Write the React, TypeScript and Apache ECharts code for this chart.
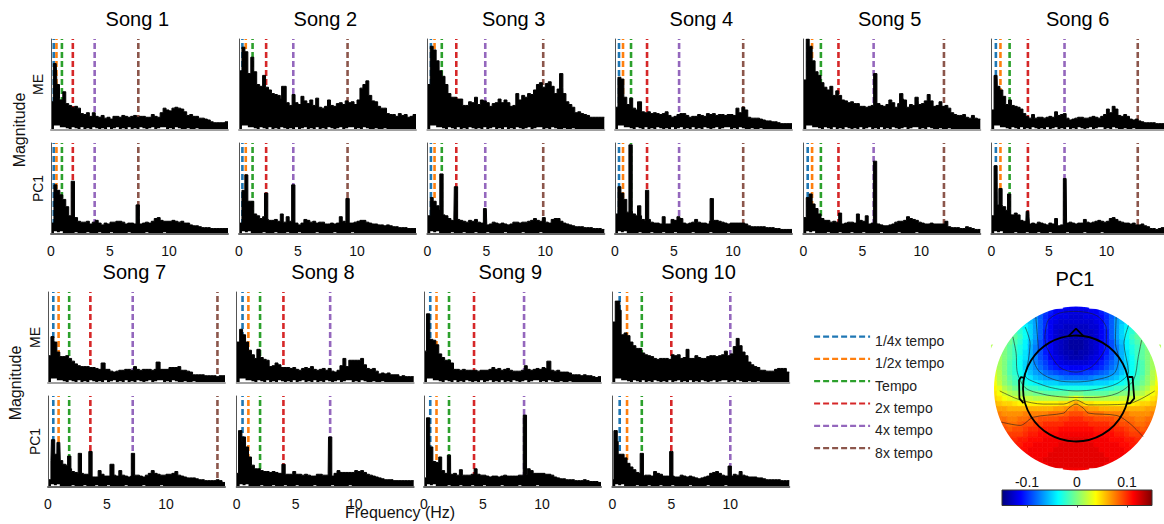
import React, { useEffect, useRef } from "react";
import * as echarts from "echarts";

const FONT = '"Liberation Sans", Arial, sans-serif';
const songNames = ["Song 1", "Song 2", "Song 3", "Song 4", "Song 5", "Song 6", "Song 7", "Song 8", "Song 9", "Song 10"];
const tempoNames = ["1/4x tempo", "1/2x tempo", "Tempo", "2x tempo", "4x tempo", "8x tempo"];
const tempoColors = ["#1f77b4", "#ff7f0e", "#2ca02c", "#d62728", "#9467bd", "#8c564b"];
const tempoFactors = [0.25, 0.5, 1, 2, 4, 8];
const songTempo = [0.925, 1.15, 1.228, 1.358, 1.49, 1.59, 1.795, 1.98, 2.12, 2.5];
const binWidth = 0.25;

const song1ME = [31,60,35,33,42,29,27,25,26,24,18,17,19,15,19,15,14,16,13,14,12,15,15,14,16,15,14,15,16,14,15,15,14,14,17,15,14,19,24,22,21,24,25,24,23,20,16,17,15,15,13,13,12,11,9,8,8,8,8,9];
const song1PC1 = [12,54,48,43,38,30,20,14,18,14,13,13,14,11,13,15,12,10,12,11,13,13,14,14,13,11,12,12,11,11,11,12,13,12,14,17,18,15,14,14,14,15,14,13,14,12,12,10,9,9,8,7,7,7,6,6,6,6,6,6];
const song2ME = [65,91,86,62,80,64,50,48,60,47,44,40,39,38,34,48,30,27,39,30,28,37,32,29,33,27,35,25,24,26,33,27,26,29,30,28,32,30,31,28,33,46,50,54,38,32,31,26,24,24,18,17,17,15,18,16,17,14,15,17];
const song2PC1 = [12,48,65,36,36,22,20,17,19,16,15,15,16,14,22,13,19,14,13,12,10,12,16,15,13,14,12,13,13,11,11,12,11,12,19,14,13,12,12,13,14,15,15,13,12,11,11,10,10,9,10,9,8,8,7,7,7,6,6,6];
const song3ME = [50,92,88,76,65,59,50,40,36,36,34,34,27,27,31,30,36,28,33,32,30,26,29,30,34,30,33,30,26,27,40,33,38,36,40,39,44,50,52,47,51,53,48,40,45,47,40,31,28,25,19,20,18,17,16,14,14,14,14,14];
const song3PC1 = [20,40,36,31,27,21,20,17,15,16,16,15,14,13,15,14,16,13,12,11,10,11,13,12,11,12,11,10,11,13,13,12,13,13,14,15,17,15,14,18,13,12,16,17,17,14,12,11,10,9,8,8,8,7,7,7,6,6,6,5];
const song4ME = [25,58,56,36,28,35,24,22,31,20,19,20,18,19,18,17,18,20,16,14,15,17,18,18,16,14,15,15,17,16,15,18,17,18,16,17,17,16,17,17,16,24,19,25,22,14,13,13,13,12,11,10,10,9,9,8,7,7,7,7];
const song4PC1 = [22,52,45,38,24,26,22,20,20,16,15,16,13,12,12,11,19,11,11,16,15,19,17,12,11,12,13,16,13,12,12,11,14,15,15,14,13,12,11,12,12,12,12,12,11,9,8,8,8,8,8,7,7,7,6,6,5,5,5,5];
const song5ME = [55,100,92,76,64,60,52,47,44,48,38,43,38,33,32,30,31,29,29,26,26,25,26,27,27,29,27,26,28,33,30,25,29,34,33,25,28,27,32,28,29,32,39,32,26,27,31,26,27,24,19,17,16,16,17,14,13,16,13,12];
const song5PC1 = [18,40,44,33,28,22,17,15,15,13,14,13,23,11,12,13,13,12,22,15,14,20,11,12,13,11,10,9,9,10,11,13,14,14,15,19,17,16,15,13,12,11,11,12,11,11,11,11,14,8,7,7,7,6,6,8,7,6,5,5];
const song6ME = [22,50,48,44,37,28,33,27,26,25,23,18,15,13,17,13,14,14,13,14,15,14,20,16,17,18,13,11,12,13,14,14,13,13,14,15,14,13,15,17,23,19,26,23,16,15,17,15,12,11,12,10,9,8,8,8,8,7,7,7];
const song6PC1 = [20,30,32,32,30,26,22,21,23,21,15,14,13,11,12,11,13,12,11,10,12,11,17,9,10,11,12,13,12,11,12,12,16,13,12,13,14,15,14,13,14,17,18,16,14,13,12,12,11,12,10,10,11,9,8,6,6,5,6,7];
const song7ME = [30,51,45,34,29,29,30,27,24,21,19,18,18,18,17,17,16,15,22,15,15,13,12,13,14,14,15,15,14,18,15,14,15,15,15,14,15,23,15,15,15,17,17,17,18,14,14,13,12,9,9,9,9,8,8,8,8,7,8,8];
const song7PC1 = [8,29,36,35,29,25,24,20,17,16,15,15,14,14,13,11,11,18,14,12,12,25,13,12,18,13,12,11,12,13,13,12,11,13,15,18,15,14,13,13,14,14,15,17,13,12,11,10,10,10,9,8,8,7,7,7,7,8,7,5];
const song8ME = [45,59,53,45,36,31,27,37,28,26,25,18,19,22,20,17,17,17,16,17,15,14,16,17,16,18,15,14,15,16,14,16,13,12,14,19,27,18,25,25,25,25,27,20,16,15,16,13,10,11,10,11,9,9,9,7,8,7,7,7];
const song8PC1 = [15,50,55,44,33,24,20,20,18,17,17,16,17,16,15,15,14,14,14,17,14,14,13,14,13,12,12,14,14,13,13,15,12,15,18,16,16,16,16,16,18,17,18,16,14,13,12,11,10,9,8,8,8,7,7,7,7,7,7,7];
const song9ME = [35,70,48,47,42,32,28,25,25,22,15,15,14,15,14,14,14,14,13,14,14,14,15,17,15,16,14,15,16,14,13,13,13,14,19,15,14,15,16,15,17,16,24,14,13,14,12,12,12,11,9,9,9,8,9,8,8,7,6,7];
const song9PC1 = [10,60,44,28,27,33,18,15,14,14,15,13,19,13,13,13,14,20,14,13,13,12,11,12,12,11,12,13,12,12,12,12,13,13,14,20,18,15,15,15,15,14,14,13,11,10,9,9,8,8,8,7,7,7,8,7,6,6,6,5];
const song10ME = [67,90,80,53,55,52,45,41,38,38,33,31,30,29,27,26,27,27,27,26,31,30,31,27,28,37,27,27,30,28,27,27,29,30,30,29,30,31,35,30,32,40,49,41,34,30,23,20,18,17,14,14,13,13,13,15,16,16,16,12];
const song10PC1 = [8,50,36,36,32,26,22,19,16,15,12,13,13,12,17,15,14,12,12,12,12,11,11,13,12,11,12,11,10,9,10,11,12,15,16,17,15,13,12,12,12,14,13,17,13,12,11,11,11,10,10,9,8,8,8,8,8,7,7,7];

const song1MEPeaks = [[0.34, 73], [0.58, 50]];
const song1PC1Peaks = [[1.85, 58], [7.35, 32]];
const song2MEPeaks = [[3.75, 48]];
const song2PC1Peaks = [[2.3, 45], [4.6, 54], [9.2, 39]];
const song3MEPeaks = [[11.35, 62]];
const song3PC1Peaks = [[1.2, 66], [2.43, 52], [4.9, 28]];
const song4MEPeaks = [[2.05, 31]];
const song4PC1Peaks = [[1.32, 98], [2.05, 31], [2.72, 48], [8.2, 39]];
const song5MEPeaks = [[6.1, 62], [8.3, 40], [9.6, 36]];
const song5PC1Peaks = [[6.08, 80]];
const song6MEPeaks = [[0.38, 60]];
const song6PC1Peaks = [[0.38, 75], [0.8, 50], [1.55, 44], [3.17, 25], [6.4, 61]];
const song7MEPeaks = [[4.7, 22], [9.3, 23]];
const song7PC1Peaks = [[0.43, 52], [0.9, 49], [1.8, 34], [2.7, 37], [3.6, 39], [5.45, 25], [7.2, 37]];
const song8MEPeaks = [[1.85, 37]];
const song8PC1Peaks = [[0.3, 62], [3.97, 25], [7.92, 55]];
const song9MEPeaks = [[0.35, 76], [10.55, 24]];
const song9PC1Peaks = [[0.35, 76], [2.12, 35], [8.55, 79]];
const song10MEPeaks = [[0.5, 90]];
const song10PC1Peaks = [[0.28, 62], [2.5, 37], [5, 39], [9.95, 23]];

// Lower edge of the black band (the white flecks above the baseline), one row kind each.
const lowerME = [1,5,5,3,3,2,1,3,2,1,3,1,2,1,3,2,1,2,1,3,1,2,3,1,2,1,3,1,2,1,3,2,1,2,3,1,2,3,3,1,2,1,3,2,1,1,2,1,1,2,1,0,1,1,0,1,0,1,0,1];
const lowerPC1 = [1,3,2,3,1,1,0,1,2,0,1,0,2,1,0,1,2,0,1,0,2,1,0,1,0,1,2,0,1,0,1,0,2,1,0,1,0,1,2,0,1,0,1,0,0,1,0,1,0,0,1,0,0,1,0,0,1,0,0,0];

const meSpectra = [song1ME, song2ME, song3ME, song4ME, song5ME, song6ME, song7ME, song8ME, song9ME, song10ME];
const pcSpectra = [song1PC1, song2PC1, song3PC1, song4PC1, song5PC1, song6PC1, song7PC1, song8PC1, song9PC1, song10PC1];
const mePeaks = [song1MEPeaks, song2MEPeaks, song3MEPeaks, song4MEPeaks, song5MEPeaks, song6MEPeaks, song7MEPeaks, song8MEPeaks, song9MEPeaks, song10MEPeaks];
const pcPeaks = [song1PC1Peaks, song2PC1Peaks, song3PC1Peaks, song4PC1Peaks, song5PC1Peaks, song6PC1Peaks, song7PC1Peaks, song8PC1Peaks, song9PC1Peaks, song10PC1Peaks];

// Scalp map, half rows from the midline outwards (left-right mirrored), in units of 0.005.
const topoHalfRows = [
  [-23,-23,-22],
  [-24,-24,-24,-23,-23,-21,-19,-17],
  [-25,-25,-24,-24,-23,-22,-20,-17,-14,-12],
  [-25,-25,-25,-25,-24,-23,-20,-17,-13,-11,-9],
  [-26,-26,-26,-25,-25,-23,-20,-17,-13,-10,-8,-6,-5],
  [-26,-26,-26,-26,-25,-23,-21,-17,-13,-10,-7,-5,-3,-2],
  [-27,-27,-27,-26,-25,-23,-21,-17,-13,-10,-7,-4,-2,-1,0],
  [-28,-28,-27,-26,-25,-23,-21,-18,-14,-11,-8,-5,-3,-1,0,2],
  [-28,-28,-27,-26,-25,-23,-21,-18,-15,-12,-8,-6,-4,-2,0,2,3],
  [-28,-27,-27,-26,-25,-23,-21,-18,-15,-12,-9,-6,-4,-2,0,2,4],
  [-27,-27,-26,-25,-24,-23,-20,-18,-15,-12,-9,-7,-4,-2,0,2,4],
  [-25,-25,-25,-24,-23,-21,-19,-17,-15,-12,-10,-7,-5,-3,0,2,4],
  [-23,-23,-22,-22,-21,-20,-18,-16,-14,-12,-10,-7,-5,-3,0,2,5],
  [-20,-20,-19,-19,-18,-17,-16,-14,-13,-11,-9,-7,-5,-3,0,3,5],
  [-16,-16,-16,-15,-14,-14,-13,-12,-11,-9,-8,-6,-4,-2,1,3,6],
  [-11,-11,-11,-11,-10,-10,-10,-9,-8,-7,-6,-4,-3,-1,1,4,7],
  [-6,-6,-6,-6,-6,-6,-5,-5,-4,-4,-3,-2,-1,1,3,6,8],
  [-1,-1,-2,-2,-2,-2,-2,-1,-1,0,0,1,2,3,5,7,9],
  [7,5,3,3,3,3,3,3,3,4,4,4,5,6,7,9,10],
  [13,11,9,9,8,8,8,8,8,8,8,8,9,10,10,11,12],
  [16,15,14,13,13,12,12,12,12,12,12,12,12,12,13,13,14],
  [18,18,17,16,16,16,15,15,15,15,15,14,14,14,14,15,16],
  [20,20,19,19,18,18,18,18,17,17,16,16,15,15,16,16,17],
  [21,21,21,20,20,20,20,19,19,18,18,17,16,16,17,17,18],
  [22,22,22,22,21,21,21,21,20,20,19,18,18,17,18,18],
  [23,23,23,23,22,22,22,22,21,21,20,19,19,19,19],
  [24,24,24,23,23,23,23,22,22,22,21,21,20,20,20],
  [24,24,24,24,23,23,23,23,23,22,22,21,21,21],
  [24,24,24,24,24,23,23,23,23,23,22,22,22],
  [24,24,24,24,24,24,23,23,23,23,23],
  [24,24,24,24,24,24,24,23,23,23],
  [24,24,24,24,24,24,23,23],
  [23,23,23],
];
const jetColors = ["#00007f", "#0000ff", "#007fff", "#00ffff", "#7fff7f", "#ffff00", "#ff7f00", "#ff0000", "#7f0000"];
const colorbarTicks = [-0.1, 0, 0.1];

const contours = [
  [[-0.38,-0.63],[-0.34,-0.83],[-0.2,-0.92],[0,-0.94],[0.25,-0.89],[0.37,-0.73],[0.37,-0.55],[0.21,-0.28],[0,-0.2],[-0.2,-0.26],[-0.36,-0.51],[-0.38,-0.63]],
  [[-0.49,-0.87],[-0.47,-0.63],[-0.46,-0.47],[-0.52,-0.37],[-0.44,-0.2],[-0.24,-0.1],[0,-0.08],[0.21,-0.1],[0.46,-0.18],[0.52,-0.37],[0.48,-0.55],[0.49,-0.87]],
  [[-0.62,-0.75],[-0.56,-0.55],[-0.58,-0.35],[-0.62,-0.16],[-0.4,-0.04],[-0.2,0.01],[0,0.03],[0.25,0.01],[0.5,-0.06],[0.64,-0.2],[0.585,-0.55],[0.64,-0.77]],
  [[-0.77,-0.63],[-0.73,-0.43],[-0.72,-0.22],[-0.62,-0.01],[-0.4,0.07],[-0.2,0.1],[0,0.11],[0.21,0.11],[0.5,0.06],[0.7,-0.1],[0.76,-0.39],[0.8,-0.59]],
  [[-0.93,0.03],[-0.68,0.14],[-0.4,0.19],[-0.15,0.19],[0,0.14],[0.15,0.2],[0.62,0.19],[0.96,0.03]],
  [[-0.91,0.41],[-0.68,0.45],[-0.52,0.35],[-0.15,0.3],[-0.09,0.24],[0,0.19],[0.09,0.24],[0.15,0.3],[0.5,0.33],[0.66,0.43],[0.82,0.59]],
];
const noseOutline = [[-0.09,-0.64],[0,-0.73],[0.09,-0.64]];
const leftEar = [[-0.64,0.18],[-0.69,0.12],[-0.695,-0.1],[-0.67,-0.14],[-0.63,-0.13]];
const rightEar = [[0.64,-0.14],[0.69,-0.14],[0.7,0],[0.71,0.12],[0.66,0.18],[0.62,0.18]];

const PW = 177;
const PH = 91;
const row1X = [51, 239, 427.3, 615, 803.3, 991.3];
const row2X = [48, 236.7, 424, 612.3];
const row1Top = [39, 143];
const row2Top = [292, 396];
const TOPO_CX = 1076;
const TOPO_CY = 388.5;
const TOPO_R = 82;

function stepPoints(values: number[], peaks: number[][]) {
  const halfWidth = 0.14;
  const edges = new Set<number>();
  values.forEach((_, i) => { edges.add(i * binWidth); edges.add((i + 1) * binWidth); });
  peaks.forEach(([f]) => { edges.add(f - halfWidth); edges.add(f + halfWidth); });
  const sorted = [...edges].filter((e) => e >= 0 && e <= 15).sort((a, b) => a - b);
  const pts: number[][] = [];
  for (let i = 0; i < sorted.length - 1; i++) {
    const mid = (sorted[i] + sorted[i + 1]) / 2;
    let h = values[Math.min(values.length - 1, Math.floor(mid / binWidth))];
    peaks.forEach(([f, v]) => { if (Math.abs(mid - f) < halfWidth && v > h) h = v; });
    pts.push([sorted[i], h], [sorted[i + 1], h]);
  }
  return pts;
}

function buildOption() {
  const grid: any[] = [];
  const xAxis: any[] = [];
  const yAxis: any[] = [];
  const series: any[] = [];
  const title: any[] = [];

  const addPanel = (song: number, kind: number, left: number, top: number, firstCol: boolean) => {
    const idx = grid.length;
    const isPC = kind === 1;
    grid.push({ left, top, width: PW, height: PH });
    xAxis.push({
      gridIndex: idx, type: "value", min: 0, max: 15, interval: 5, z: 3,
      axisLine: { show: true, onZero: false, lineStyle: { color: isPC ? "#666666" : "#a0a0a0", width: 2 } },
      axisTick: { show: false }, splitLine: { show: false },
      axisLabel: {
        show: isPC, fontFamily: FONT, fontSize: 14, color: "#111111", margin: 10,
        showMaxLabel: false,
        formatter: (v: number) => (v === 15 ? "" : String(v)),
      },
    });
    yAxis.push({
      gridIndex: idx, type: "value", min: 0, max: 100, z: 3,
      axisLine: { show: true, onZero: false, lineStyle: { color: "#555555", width: 1 } },
      axisTick: { show: false }, axisLabel: { show: false }, splitLine: { show: false },
      name: firstCol ? (isPC ? "PC1" : "ME") : "",
      nameLocation: "middle", nameRotate: 90, nameGap: 6,
      nameTextStyle: { fontFamily: FONT, fontSize: 14, color: "#111111" },
    });
    tempoFactors.forEach((factor, t) => {
      const f = songTempo[song] * factor;
      if (f > 15) return;
      series.push({
        type: "line", name: tempoNames[t], xAxisIndex: idx, yAxisIndex: idx, symbol: "none", z: 2,
        data: [[f, 0], [f, 100]], silent: true,
        lineStyle: { color: tempoColors[t], width: 2.6, type: [6, 3] },
        itemStyle: { color: tempoColors[t] },
      });
    });
    const values = isPC ? pcSpectra[song] : meSpectra[song];
    const peaks = isPC ? pcPeaks[song] : mePeaks[song];
    series.push({
      type: "line", xAxisIndex: idx, yAxisIndex: idx, symbol: "none", z: 2.5, silent: true,
      data: stepPoints(values, peaks),
      lineStyle: { color: "#000000", width: 1 },
      areaStyle: { color: "#000000", opacity: 1 },
    });
    series.push({
      type: "line", xAxisIndex: idx, yAxisIndex: idx, symbol: "none", z: 2.7, silent: true,
      data: stepPoints(isPC ? lowerPC1 : lowerME, []),
      lineStyle: { width: 0, opacity: 0 },
      areaStyle: { color: "#ffffff", opacity: 1 },
    });
  };

  songNames.forEach((name, s) => {
    const inFirst = s < 6;
    const left = inFirst ? row1X[s] : row2X[s - 6];
    const tops = inFirst ? row1Top : row2Top;
    const firstCol = s === 0 || s === 6;
    addPanel(s, 0, left, tops[0], firstCol);
    addPanel(s, 1, left, tops[1], firstCol);
    title.push({
      text: name, left: left + PW / 2 - 2.2, top: inFirst ? 9 : 262, textAlign: "center", padding: 0,
      textStyle: { fontFamily: FONT, fontSize: 20, fontWeight: "normal", color: "#000000" },
    });
  });
  title.push({
    text: "PC1", left: TOPO_CX - 1, top: 269, textAlign: "center", padding: 0,
    textStyle: { fontFamily: FONT, fontSize: 20, fontWeight: "normal", color: "#000000" },
  });

  // Scalp map and its outlines, in head-radius units
  const mapIdx = grid.length;
  grid.push({ left: TOPO_CX - TOPO_R, top: TOPO_CY - TOPO_R, width: TOPO_R * 2, height: TOPO_R * 2 });
  xAxis.push({ gridIndex: mapIdx, type: "value", min: -1, max: 1, show: false });
  yAxis.push({ gridIndex: mapIdx, type: "value", min: -1, max: 1, inverse: true, show: false });
  const cells: number[][] = [];
  topoHalfRows.forEach((row, r) => {
    const v = (r - 16) / 16;
    row.forEach((value, c) => {
      cells.push([c / 16, v, value]);
      if (c > 0) cells.push([-c / 16, v, value]);
    });
  });
  const cellSeriesIndex = series.length;
  series.push({
    type: "custom", xAxisIndex: mapIdx, yAxisIndex: mapIdx, data: cells, silent: true, z: 1, clip: false,
    encode: { x: 0, y: 1 },
    renderItem: (_: any, api: any) => {
      const half = 1 / 32;
      const a = api.coord([api.value(0) - half, api.value(1) - half]);
      const b = api.coord([api.value(0) + half, api.value(1) + half]);
      const color = api.visual("color");
      return {
        type: "rect",
        shape: { x: a[0], y: a[1], width: b[0] - a[0], height: b[1] - a[1] },
        style: { fill: color, stroke: color, lineWidth: 0.7 },
      };
    },
  });
  contours.forEach((c) => {
    series.push({
      type: "line", xAxisIndex: mapIdx, yAxisIndex: mapIdx, data: c, symbol: "none", smooth: 0.3, z: 5, silent: true,
      lineStyle: { color: "rgba(30,30,30,0.65)", width: 0.9 },
    });
  });
  [noseOutline, leftEar, rightEar].forEach((c) => {
    series.push({
      type: "line", xAxisIndex: mapIdx, yAxisIndex: mapIdx, data: c, symbol: "none", z: 6, silent: true,
      lineStyle: { color: "#000000", width: 1.8 },
    });
  });

  // Colour bar
  const barIdx = grid.length;
  grid.push({ left: 1002, top: 490, width: 150, height: 15.5 });
  xAxis.push({
    gridIndex: barIdx, type: "value", min: -0.15, max: 0.15, position: "top", z: 6,
    axisLine: { show: false }, splitLine: { show: false },
    axisTick: { show: true, inside: true, length: 2, customValues: colorbarTicks, lineStyle: { color: "#444444" } },
    axisLabel: { customValues: colorbarTicks, fontFamily: FONT, fontSize: 14, color: "#111111", margin: 1, formatter: (v: number) => String(v) },
  });
  yAxis.push({ gridIndex: barIdx, type: "value", min: 0, max: 1, show: false });
  series.push({
    type: "custom", xAxisIndex: barIdx, yAxisIndex: barIdx, data: [[-0.15, 0.15]], silent: true, z: 5,
    renderItem: (_: any, api: any) => {
      const a = api.coord([api.value(0), 1]);
      const b = api.coord([api.value(1), 0]);
      return {
        type: "rect",
        shape: { x: a[0], y: a[1], width: b[0] - a[0], height: b[1] - a[1] },
        style: {
          fill: new echarts.graphic.LinearGradient(0, 0, 1, 0, jetColors.map((color, i) => ({ offset: i / (jetColors.length - 1), color }))),
          stroke: "#333333", lineWidth: 1,
        },
      };
    },
  });

  const graphic = [
    { type: "ring", z: 4, silent: true, shape: { cx: TOPO_CX, cy: TOPO_CY, r: 94, r0: TOPO_R }, style: { fill: "#ffffff" } },
    { type: "circle", z: 10, silent: true, shape: { cx: TOPO_CX, cy: TOPO_CY, r: 53 }, style: { fill: "none", stroke: "#000000", lineWidth: 1.8 } },
    { type: "text", z: 10, x: 19, y: 130, rotation: Math.PI / 2, silent: true, style: { text: "Magnitude", fontFamily: FONT, fontSize: 16, fill: "#111111", align: "center", verticalAlign: "middle" } },
    { type: "text", z: 10, x: 15, y: 383, rotation: Math.PI / 2, silent: true, style: { text: "Magnitude", fontFamily: FONT, fontSize: 16, fill: "#111111", align: "center", verticalAlign: "middle" } },
    { type: "text", z: 10, x: 400, y: 512, silent: true, style: { text: "Frequency (Hz)", fontFamily: FONT, fontSize: 16, fill: "#111111", align: "center", verticalAlign: "middle" } },
  ];

  return {
    animation: false,
    backgroundColor: "#ffffff",
    textStyle: { fontFamily: FONT },
    title, grid, xAxis, yAxis, series, graphic,
    legend: {
      data: tempoNames, orient: "vertical", left: 813, top: 331, itemWidth: 56, itemHeight: 14, itemGap: 5.2,
      selectedMode: false, padding: 0,
      itemStyle: { opacity: 0 },
      lineStyle: { width: 2.2 },
      formatter: (name: string) => `{t|${name}}`,
      textStyle: {
        fontFamily: FONT, fontSize: 14, color: "#222222",
        rich: { t: { fontFamily: FONT, fontSize: 14, color: "#222222", padding: [9, 0, 0, 0] } },
      },
    },
    visualMap: {
      show: false, seriesIndex: cellSeriesIndex, min: -30, max: 30, dimension: 2,
      inRange: { color: jetColors },
    },
  };
}

export default function App() {
  const ref = useRef<HTMLDivElement>(null);
  useEffect(() => {
    document.body.style.margin = "0";
    const chart = echarts.init(ref.current!, undefined, { renderer: "svg" });
    chart.setOption(buildOption() as any);
    return () => chart.dispose();
  }, []);
  return <div ref={ref} style={{ width: 1164, height: 524 }} />;
}
